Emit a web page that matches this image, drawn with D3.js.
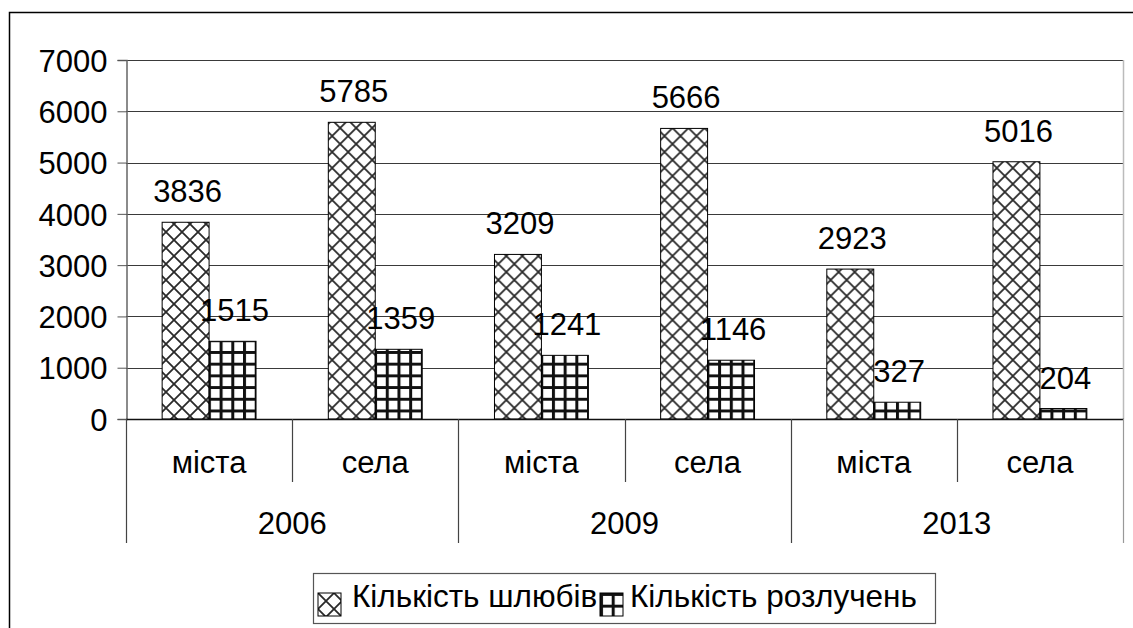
<!DOCTYPE html>
<html>
<head>
<meta charset="utf-8">
<script src="https://cdn.jsdelivr.net/npm/d3@7"></script>
<style>
  html, body { margin: 0; padding: 0; background: #fff; }
  svg { display: block; font-family: "Liberation Sans", Arial, sans-serif; }
</style>
</head>
<body>
<div id="chart"></div>
<script>
// data
var years = ['2006', '2009', '2013'];
var places = ['міста', 'села'];
var seriesNames = ['Кількість шлюбів', 'Кількість розлучень'];
var marriages = [3836, 5785, 3209, 5666, 2923, 5016];
var divorces = [1515, 1359, 1241, 1146, 327, 204];
var yTicks = [0, 1000, 2000, 3000, 4000, 5000, 6000, 7000];

var W = 1133, H = 628;

// categories = year x place
var cats = [];
years.forEach(function (yr) {
  places.forEach(function (p) { cats.push({ year: yr, place: p, key: yr + '|' + p }); });
});
var rows = cats.map(function (c, i) {
  return { key: c.key, values: [marriages[i], divorces[i]] };
});

var svg = d3.select('#chart').append('svg')
  .attr('width', W).attr('height', H);

// hatch patterns
var defs = svg.append('defs');
var cross = defs.append('pattern')
  .attr('id', 'pat0').attr('patternUnits', 'userSpaceOnUse')
  .attr('width', 16).attr('height', 16);
cross.append('rect').attr('width', 16).attr('height', 16).attr('fill', '#fff');
cross.append('path').attr('d', 'M0,0L16,16M16,0L0,16M-2,14L2,18M14,-2L18,2')
  .attr('stroke', '#2a2a2a').attr('stroke-width', 1.8).attr('fill', 'none');

var grid = defs.append('pattern')
  .attr('id', 'pat1').attr('patternUnits', 'userSpaceOnUse')
  .attr('width', 11.7).attr('height', 11.7);
grid.append('rect').attr('width', 11.7).attr('height', 11.7).attr('fill', '#fff');
grid.append('path').attr('d', 'M1.5,0V11.7M0,1.5H11.7')
  .attr('stroke', '#111').attr('stroke-width', 3).attr('fill', 'none');

// outer frame
svg.append('rect')
  .attr('x', 9.5).attr('y', 12.5).attr('width', 1140).attr('height', 640)
  .attr('fill', 'none').attr('stroke', '#000').attr('stroke-width', 1.5);

var plotLeft = 126, plotRight = 1123, plotTop = 60, plotBottom = 419;

var x0 = d3.scaleBand().domain(cats.map(function (c) { return c.key; }))
  .range([plotLeft, plotRight]).padding(0);
var x1 = d3.scaleBand().domain([0, 1])
  .range([0, x0.bandwidth()]).paddingInner(0).paddingOuter(0.77);
var yearScale = d3.scaleBand().domain(years).range([plotLeft, plotRight]).padding(0);
var y = d3.scaleLinear().domain([0, 7000]).range([plotBottom, plotTop]);

// gridlines
svg.append('g').selectAll('line').data(yTicks.slice(1)).enter().append('line')
  .attr('x1', plotLeft).attr('x2', plotRight)
  .attr('y1', function (d) { return Math.round(y(d)) + 0.5; })
  .attr('y2', function (d) { return Math.round(y(d)) + 0.5; })
  .attr('stroke', '#3a3a3a').attr('stroke-width', 1);

// plot area right border
svg.append('line')
  .attr('x1', plotRight + 0.5).attr('x2', plotRight + 0.5).attr('y1', plotTop).attr('y2', plotBottom)
  .attr('stroke', '#bbb').attr('stroke-width', 1.5);

// y axis
var yAxis = d3.axisLeft(y).tickValues(yTicks).tickFormat(d3.format('d'))
  .tickSize(9).tickPadding(10);
var gy = svg.append('g').attr('transform', 'translate(' + (plotLeft + 0.5) + ',0)').call(yAxis);
gy.select('.domain').attr('stroke', '#666').attr('stroke-width', 1.5);
gy.selectAll('.tick line').attr('stroke', '#555');
gy.selectAll('.tick text').attr('fill', '#000').attr('font-size', 31)
  .attr('font-family', '"Liberation Sans", Arial, sans-serif')
  .attr('dy', '0.36em');

// bars
var groups = svg.append('g').selectAll('g').data(rows).enter().append('g')
  .attr('transform', function (d) { return 'translate(' + x0(d.key) + ',0)'; });
groups.selectAll('rect').data(function (d) { return d.values; }).enter().append('rect')
  .attr('x', function (d, i) { return x1(i); })
  .attr('width', x1.bandwidth())
  .attr('y', function (d) { return y(d); })
  .attr('height', function (d) { return y(0) - y(d); })
  .attr('fill', function (d, i) { return 'url(#pat' + i + ')'; })
  .attr('stroke', '#000').attr('stroke-width', 1);
groups.selectAll('text').data(function (d) { return d.values; }).enter().append('text')
  .attr('x', function (d, i) { return x1(i) + x1.bandwidth() / 2 + 2; })
  .attr('y', function (d) { return y(d) - 20; })
  .attr('text-anchor', 'middle').attr('font-size', 31)
  .text(function (d) { return d; });

// x axis (two-level)
svg.append('line')
  .attr('x1', plotLeft).attr('x2', plotRight + 1).attr('y1', plotBottom + 0.5).attr('y2', plotBottom + 0.5)
  .attr('stroke', '#111').attr('stroke-width', 1.5);

var boundaries = d3.range(cats.length + 1).map(function (i) {
  return { x: plotLeft + i * x0.step(), outer: i % places.length === 0 };
});
svg.append('g').selectAll('line').data(boundaries).enter().append('line')
  .attr('x1', function (d) { return Math.round(d.x) + 0.5; })
  .attr('x2', function (d) { return Math.round(d.x) + 0.5; })
  .attr('y1', plotBottom)
  .attr('y2', function (d) { return d.outer ? 543 : 482; })
  .attr('stroke', function (d, i) { return i === cats.length ? '#999' : '#444'; })
  .attr('stroke-width', 1.2);

svg.append('g').selectAll('text').data(cats).enter().append('text')
  .attr('x', function (d) { return x0(d.key) + x0.bandwidth() / 2; })
  .attr('y', 473).attr('text-anchor', 'middle').attr('font-size', 31)
  .text(function (d) { return d.place; });

svg.append('g').selectAll('text').data(years).enter().append('text')
  .attr('x', function (d) { return yearScale(d) + yearScale.bandwidth() / 2; })
  .attr('y', 534).attr('text-anchor', 'middle').attr('font-size', 31)
  .text(function (d) { return d; });

// legend
var legend = svg.append('g');
legend.append('rect')
  .attr('x', 313.5).attr('y', 573.5).attr('width', 622).attr('height', 50)
  .attr('fill', '#fff').attr('stroke', '#555').attr('stroke-width', 1.2);
var legendX = [318, 600];
var legendTextX = [34, 30];
var items = legend.selectAll('g.item').data(seriesNames).enter().append('g')
  .attr('class', 'item')
  .attr('transform', function (d, i) { return 'translate(' + legendX[i] + ',593)'; });
items.append('rect')
  .attr('width', 23).attr('height', 23)
  .attr('fill', function (d, i) { return 'url(#pat' + i + ')'; })
  .attr('stroke', '#000').attr('stroke-width', 1);
items.append('text')
  .attr('x', function (d, i) { return legendTextX[i]; })
  .attr('y', 14).attr('font-size', 31.5)
  .text(function (d) { return d; });
</script>
</body>
</html>
